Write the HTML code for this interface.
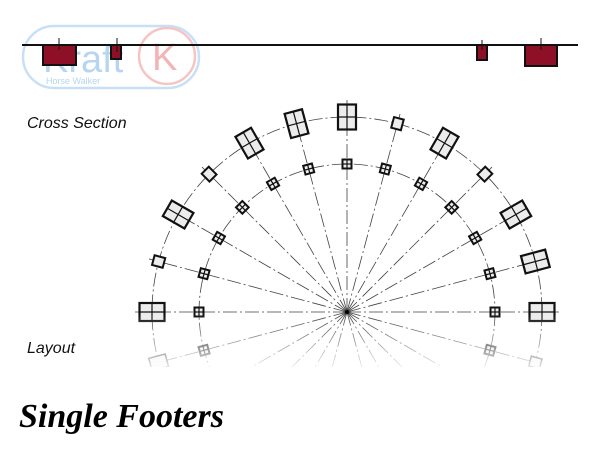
<!DOCTYPE html>
<html><head><meta charset="utf-8"><style>
html,body{margin:0;padding:0;background:#fff;width:600px;height:449px;overflow:hidden}
svg{display:block}
</style></head><body>
<svg id="s" width="600" height="449" viewBox="0 0 600 449" xmlns="http://www.w3.org/2000/svg">
<defs>
<linearGradient id="fade" x1="0" y1="0" x2="0" y2="1">
<stop offset="0" stop-color="#fff" stop-opacity="0"/>
<stop offset="1" stop-color="#fff" stop-opacity="0.9"/>
</linearGradient>
</defs>
<!-- logo -->
<rect x="23" y="26" width="176" height="62" rx="31" fill="none" stroke="#c8e0f5" stroke-width="2.5"/>
<text x="43" y="72" font-family="Liberation Sans, sans-serif" font-size="38" fill="#b6d5f0">Kraft</text>
<text x="46" y="84" font-family="Liberation Sans, sans-serif" font-size="9" fill="#b6d5f0">Horse Walker</text>
<circle cx="167" cy="56" r="28" fill="none" stroke="#f6c4c4" stroke-width="2.5"/>
<text x="152" y="70" font-family="Liberation Sans, sans-serif" font-size="38" fill="#f4b4b4">K</text>
<!-- cross section -->
<rect x="43" y="45" width="33" height="20" fill="#8e1027" stroke="#111" stroke-width="2"/>
<rect x="111" y="45" width="10" height="14" fill="#8e1027" stroke="#111" stroke-width="2"/>
<rect x="477" y="45" width="10" height="15" fill="#8e1027" stroke="#111" stroke-width="2"/>
<rect x="525" y="45" width="32" height="21" fill="#8e1027" stroke="#111" stroke-width="2"/>
<line x1="59" y1="38" x2="59" y2="50" stroke="#111" stroke-width="1"/>
<line x1="117" y1="38" x2="117" y2="52" stroke="#111" stroke-width="1"/>
<line x1="482" y1="40" x2="482" y2="50" stroke="#111" stroke-width="1"/>
<line x1="541" y1="38" x2="541" y2="50" stroke="#111" stroke-width="1"/>
<line x1="22" y1="45" x2="578" y2="45" stroke="#111" stroke-width="2"/>
<g id="lay"></g>
<rect x="0" y="314" width="600" height="54" fill="url(#fade)"/>
<rect x="0" y="367" width="600" height="82" fill="#fff"/>
<text x="27" y="128" font-family="Liberation Sans, sans-serif" font-style="italic" font-size="16" fill="#111">Cross Section</text>
<text x="27" y="353" font-family="Liberation Sans, sans-serif" font-style="italic" font-size="16" fill="#111">Layout</text>
<text x="19" y="427" font-family="Liberation Serif, serif" font-style="italic" font-weight="bold" font-size="34" fill="#000">Single Footers</text>
</svg>
<script>
var g=document.getElementById('lay'),cx=347,cy=312,RO=195,RI=148,h='';
var da='14 3 2 3';
h+='<circle cx="'+cx+'" cy="'+cy+'" r="'+RO+'" fill="none" stroke="#444" stroke-width="0.8" stroke-dasharray="'+da+'"/>';
h+='<circle cx="'+cx+'" cy="'+cy+'" r="'+RI+'" fill="none" stroke="#444" stroke-width="0.8" stroke-dasharray="'+da+'"/>';
for(var t=-75;t<=255;t+=15){var a=t*Math.PI/180,c=Math.cos(a),s=Math.sin(a);
 var L=(t==0||t==90||t==180)?215:(t>=0&&t<=180?205:200);
 h+='<line x1="'+cx+'" y1="'+cy+'" x2="'+(cx-L*c)+'" y2="'+(cy-L*s)+'" stroke="#444" stroke-width="0.8" stroke-dasharray="'+da+'"/>';}
function sq(r,t,w,hh,cross,sw){var a=t*Math.PI/180,x=cx-r*Math.cos(a),y=cy-r*Math.sin(a);
 var s='<g transform="translate('+x+','+y+') rotate('+t+')"><rect x="'+(-w/2)+'" y="'+(-hh/2)+'" width="'+w+'" height="'+hh+'" fill="#ececec" stroke="#111" stroke-width="'+sw+'"/>';
 if(cross)s+='<line x1="'+(-w/2)+'" y1="0" x2="'+(w/2)+'" y2="0" stroke="#111" stroke-width="1.2"/><line x1="0" y1="'+(-hh/2)+'" x2="0" y2="'+(hh/2)+'" stroke="#111" stroke-width="1.2"/>';
 return s+'</g>';}
var big=[0,30,60,75,90,120,150,165,180],small=[15,45,105,135];
for(var t=-15;t<=195;t+=15){h+=sq(RI,t,9,9,true,2);}
big.forEach(function(t){h+=sq(RO,t,25,18,true,2.2);});
small.forEach(function(t){h+=sq(RO,t,11,10,false,2);});
h+=sq(RO,-15,17,13,false,1.5);h+=sq(RO,195,11,10,false,1.5);
h+='<circle cx="'+cx+'" cy="'+cy+'" r="2" fill="#000"/>';
g.innerHTML=h;
</script>
</body></html>
